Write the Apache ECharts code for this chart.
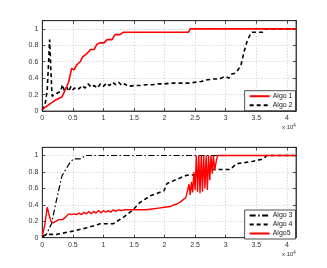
<!DOCTYPE html>
<html><head><meta charset="utf-8">
<script src="https://cdn.jsdelivr.net/npm/echarts@6/dist/echarts.min.js"></script>
<style>html,body{margin:0;padding:0;background:#fff}#c{width:327px;height:268px}</style>
</head><body><div id="c"></div>
<script>
// x values in units of 1e4
const xTicks = [0, 0.5, 1, 1.5, 2, 2.5, 3, 3.5, 4];
const yTicks = [0, 0.2, 0.4, 0.6, 0.8, 1];
const algo1 = [[0,0.02],[0.13,0.09],[0.21,0.13],[0.32,0.17],[0.37,0.25],[0.43,0.35],[0.48,0.52],[0.52,0.5],[0.56,0.56],[0.62,0.6],[0.66,0.66],[0.73,0.7],[0.79,0.75],[0.85,0.75],[0.89,0.81],[0.94,0.83],[1.01,0.83],[1.06,0.87],[1.14,0.87],[1.19,0.93],[1.27,0.93],[1.33,0.96],[2.39,0.96],[2.42,1.0],[4.15,1.0]];
const algo2 = [[0,0.01],[0.05,0.1],[0.08,0.25],[0.1,0.55],[0.12,0.87],[0.14,0.5],[0.16,0.18],[0.2,0.2],[0.25,0.22],[0.3,0.24],[0.33,0.32],[0.36,0.25],[0.4,0.29],[0.43,0.24],[0.47,0.3],[0.5,0.26],[0.55,0.29],[0.6,0.27],[0.65,0.31],[0.7,0.28],[0.75,0.33],[0.8,0.29],[0.85,0.31],[0.9,0.28],[0.95,0.33],[1.0,0.3],[1.05,0.34],[1.1,0.31],[1.15,0.35],[1.2,0.32],[1.25,0.35],[1.3,0.31],[1.35,0.33],[1.4,0.3],[1.5,0.31],[1.6,0.31],[1.7,0.32],[1.8,0.32],[1.9,0.33],[2.0,0.33],[2.1,0.34],[2.2,0.34],[2.3,0.34],[2.4,0.34],[2.5,0.35],[2.6,0.36],[2.7,0.38],[2.8,0.39],[2.9,0.39],[2.95,0.41],[3.0,0.42],[3.05,0.4],[3.1,0.45],[3.15,0.46],[3.2,0.5],[3.25,0.56],[3.3,0.72],[3.35,0.85],[3.4,0.93],[3.43,0.96],[3.6,0.96],[3.65,1.0],[4.15,1.0]];
const algo3 = [[0,0.01],[0.07,0.045],[0.15,0.17],[0.23,0.45],[0.32,0.75],[0.4,0.85],[0.45,0.91],[0.51,0.96],[0.64,0.96],[0.7,1.0],[4.15,1.0]];
const algo4 = [[0,0.02],[0.1,0.04],[0.23,0.04],[0.5,0.08],[0.73,0.12],[0.95,0.17],[1.16,0.17],[1.33,0.25],[1.47,0.33],[1.6,0.43],[1.77,0.51],[1.99,0.57],[2.04,0.66],[2.2,0.71],[2.36,0.76],[2.58,0.77],[2.74,0.83],[3.07,0.83],[3.18,0.9],[3.45,0.93],[3.62,0.96],[3.67,1.0],[4.15,1.0]];
const algo5 = [[0,0.02],[0.04,0.15],[0.08,0.37],[0.11,0.28],[0.14,0.2],[0.18,0.18],[0.22,0.2],[0.27,0.22],[0.33,0.22],[0.38,0.25],[0.43,0.29],[0.48,0.28],[0.52,0.29],[0.56,0.28],[0.6,0.3],[0.64,0.28],[0.68,0.31],[0.72,0.29],[0.76,0.32],[0.8,0.29],[0.84,0.32],[0.88,0.3],[0.92,0.33],[0.96,0.3],[1.0,0.33],[1.04,0.31],[1.08,0.33],[1.12,0.31],[1.16,0.34],[1.2,0.32],[1.25,0.34],[1.3,0.33],[1.35,0.34],[1.4,0.34],[1.5,0.34],[1.6,0.34],[1.7,0.34],[1.8,0.35],[1.9,0.36],[2.0,0.37],[2.1,0.38],[2.15,0.4],[2.2,0.41],[2.25,0.43],[2.3,0.46],[2.35,0.49],[2.38,0.5],[2.4,0.65],[2.42,0.52],[2.44,0.68],[2.46,0.55],[2.48,0.8],[2.5,0.58],[2.52,1.0],[2.54,0.56],[2.56,1.0],[2.58,0.54],[2.6,1.0],[2.62,0.56],[2.64,1.0],[2.66,0.6],[2.68,1.0],[2.7,0.58],[2.72,1.0],[2.74,0.7],[2.76,1.0],[2.78,0.78],[2.8,1.0],[2.82,0.82],[2.85,0.95],[2.87,1.0],[4.15,1.0]];

const FONT = 'Liberation Sans';
const chart = echarts.init(document.getElementById('c'), null, {renderer:'canvas'});
const gridTops = [20.7, 147.3];
function xAx(gi, pos){
  return {type:'value', gridIndex:gi, min:0, max:4.15, interval:0.5, position:pos,
    axisLine:{show:true, onZero:false, lineStyle:{color:'#222', width:0.8}},
    axisTick:{show:true, inside:true, length:3, lineStyle:{color:'#222', width:0.8}},
    axisLabel:{show:pos==='bottom', fontFamily:FONT, fontSize:7, color:'#333', margin:4, showMaxLabel:false,
      formatter:v=> xTicks.indexOf(+v.toFixed(2))>=0 ? String(+v.toFixed(2)) : ''},
    splitLine:{show:pos==='bottom', lineStyle:{color:'#bbb', type:[1,2], width:0.8}}};
}
function yAx(gi, pos){
  return {type:'value', gridIndex:gi, min:0, max:1.1, interval:0.2, position:pos,
    axisLine:{show:true, onZero:false, lineStyle:{color:'#222', width:0.8}},
    axisTick:{show:true, inside:true, length:3, lineStyle:{color:'#222', width:0.8}},
    axisLabel:{show:pos==='left', fontFamily:FONT, fontSize:7, color:'#333', margin:4, showMaxLabel:false,
      formatter:v=> yTicks.indexOf(+v.toFixed(2))>=0 ? String(+v.toFixed(2)) : ''},
    splitLine:{show:pos==='left', lineStyle:{color:'#bbb', type:[1,2], width:0.8}}};
}
const legendCommon = {orient:'vertical', right:31.5, itemWidth:20, itemHeight:6, itemGap:2,
  backgroundColor:'#fff', borderColor:'#222', borderWidth:0.8, padding:[2,3,2,4],
  itemStyle:{opacity:0},
  textStyle:{fontFamily:FONT, fontSize:7, color:'#222', padding:[0,0,0,-2]}};
chart.setOption({
  animation:false,
  grid:[
    {left:42.3, top:gridTops[0], width:253.7, height:90.3, show:true, borderColor:'#222', borderWidth:0.8, backgroundColor:'#fff'},
    {left:42.3, top:gridTops[1], width:253.7, height:90.4, show:true, borderColor:'#222', borderWidth:0.8, backgroundColor:'#fff'}
  ],
  xAxis:[xAx(0,'bottom'), xAx(0,'top'), xAx(1,'bottom'), xAx(1,'top')],
  yAxis:[yAx(0,'left'), yAx(0,'right'), yAx(1,'left'), yAx(1,'right')],
  legend:[
    Object.assign({}, legendCommon, {top:90.7, data:['Algo 1','Algo 2']}),
    Object.assign({}, legendCommon, {top:210, data:['Algo 3','Algo 4','Algo5']})
  ],
  graphic:[
    {type:'text', left:282, top:123, style:{text:'x 10{s|4}', fontFamily:FONT, fontSize:6, fill:'#333',
      rich:{s:{fontSize:4.5, verticalAlign:'top', padding:[0,0,4,0]}}}},
    {type:'text', left:282, top:250, style:{text:'x 10{s|4}', fontFamily:FONT, fontSize:6, fill:'#333',
      rich:{s:{fontSize:4.5, verticalAlign:'top', padding:[0,0,4,0]}}}}
  ],
  series:[
    {name:'Algo 1', type:'line', xAxisIndex:0, yAxisIndex:0, data:algo1, symbol:'none', z:3,
      lineStyle:{color:'#ff0000', width:1.6}, itemStyle:{color:'#ff0000'}},
    {name:'Algo 2', type:'line', xAxisIndex:0, yAxisIndex:0, data:algo2, symbol:'none', z:2,
      lineStyle:{color:'#000', width:1.6, type:[4,3]}, itemStyle:{color:'#000'}},
    {name:'Algo 3', type:'line', xAxisIndex:2, yAxisIndex:2, data:algo3, symbol:'none',
      lineStyle:{color:'#000', width:1.2, type:[6,2.5,1.5,2.5]}, itemStyle:{color:'#000'}},
    {name:'Algo 4', type:'line', xAxisIndex:2, yAxisIndex:2, data:algo4, symbol:'none',
      lineStyle:{color:'#000', width:1.6, type:[4,3]}, itemStyle:{color:'#000'}},
    {name:'Algo5', type:'line', xAxisIndex:2, yAxisIndex:2, data:algo5, symbol:'none', z:3,
      lineStyle:{color:'#ff0000', width:1.4}, itemStyle:{color:'#ff0000'}}
  ]
});
</script></body></html>
